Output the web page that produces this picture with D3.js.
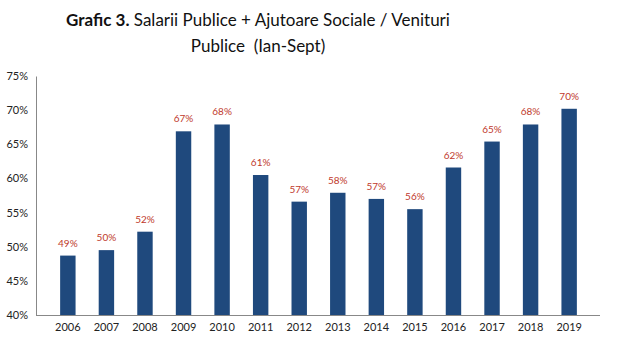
<!DOCTYPE html>
<html><head><meta charset="utf-8">
<script src="https://cdn.jsdelivr.net/npm/d3@7"></script>
<style>body{margin:0;background:#fff}svg{display:block}</style>
</head><body><svg id="c" width="620" height="363"></svg>
<script>
const years = ["2006","2007","2008","2009","2010","2011","2012","2013","2014","2015","2016","2017","2018","2019"];
const values = [48.7,49.5,52.2,66.9,67.9,60.5,56.6,57.9,57.0,55.5,61.6,65.4,67.9,70.2];
const labels = ["49%","50%","52%","67%","68%","61%","57%","58%","57%","56%","62%","65%","68%","70%"];
const yTicks = [40,45,50,55,60,65,70,75];

const svg = d3.select("#c");
const font = "Lato, 'Open Sans', sans-serif";
const x = d3.scaleBand().domain(years).range([37,600]).padding(0.6);
const y = d3.scaleLinear().domain([40,75]).range([315,76]);

// title
const t = svg.append("text").attr("x",258).attr("y",26).attr("text-anchor","middle")
  .attr("font-family",font).attr("font-size",17).attr("fill","#111");
t.append("tspan").attr("font-weight","bold").text("Grafic 3.");
t.append("tspan").text(" Salarii Publice + Ajutoare Sociale / Venituri");
svg.append("text").attr("x",258).attr("y",52).attr("text-anchor","middle")
  .attr("font-family",font).attr("font-size",17).attr("fill","#111")
  .attr("xml:space","preserve").text("Publice  (Ian-Sept)");

// y axis
const ya = svg.append("g").attr("transform","translate(36,0)")
  .call(d3.axisLeft(y).tickValues(yTicks).tickFormat(d=>d+"%").tickSize(0).tickPadding(8));
ya.select(".domain").attr("stroke","#888");
ya.selectAll("text").attr("font-family",font).attr("font-size",11).attr("fill","#222");

// bars
svg.append("g").selectAll("rect").data(years).join("rect")
  .attr("x",d=>x(d)).attr("width",x.bandwidth())
  .attr("y",(d,i)=>y(values[i])).attr("height",(d,i)=>y(40)-y(values[i]))
  .attr("fill","#1f497d");

// value labels
svg.append("g").selectAll("text").data(years).join("text")
  .attr("x",d=>x(d)+x.bandwidth()/2).attr("y",(d,i)=>y(values[i])-9)
  .attr("text-anchor","middle").attr("font-family",font).attr("font-size",10)
  .attr("fill","#c0392b").text((d,i)=>labels[i]);

// x axis
const xa = svg.append("g").attr("transform","translate(0,315)")
  .call(d3.axisBottom(x).tickSize(0).tickPadding(8));
xa.select(".domain").attr("stroke","#888").attr("d","M36,0.5H600");
xa.selectAll("text").attr("font-family",font).attr("font-size",11).attr("fill","#222");
</script></body></html>
